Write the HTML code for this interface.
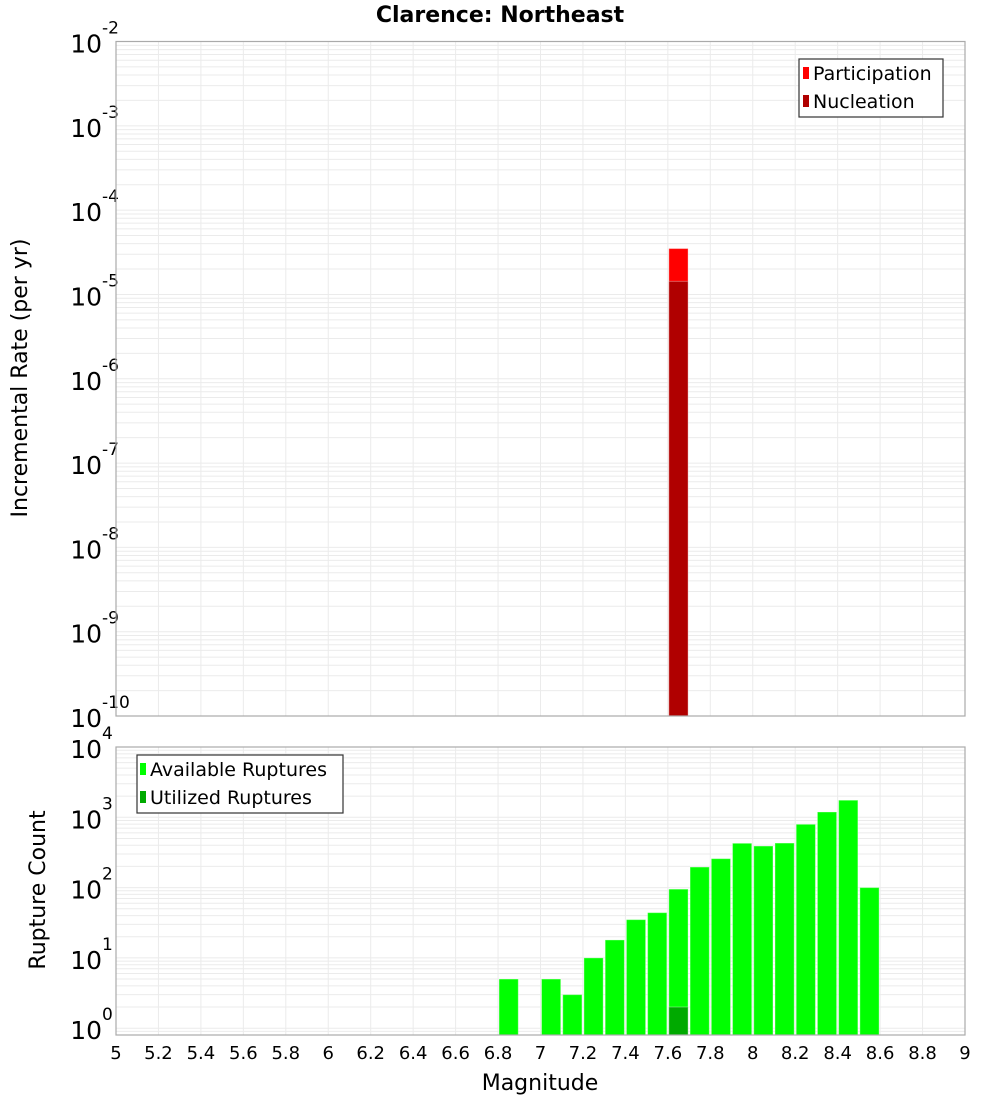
<!DOCTYPE html>
<html><head><meta charset="utf-8"><style>
body{margin:0;background:#fff;}
svg{display:block;font-family:"DejaVu Sans","Liberation Sans",sans-serif;}
</style></head><body>
<svg id="chart" width="1000" height="1100" xmlns="http://www.w3.org/2000/svg">
<text x="500" y="22" text-anchor="middle" font-size="22" font-weight="bold">Clarence: Northeast</text>
<g id="top"></g>
<g id="bot"></g>
<text transform="translate(27,378) rotate(-90)" text-anchor="middle" font-size="22">Incremental Rate (per yr)</text>
<text transform="translate(45,890) rotate(-90)" text-anchor="middle" font-size="22">Rupture Count</text>
<text x="540" y="1090" text-anchor="middle" font-size="22">Magnitude</text>
<g>
<rect x="799" y="59" width="144" height="58" fill="#fff" stroke="#333" stroke-width="1.2"/>
<rect x="803" y="67" width="6" height="12" fill="#ff0000"/>
<text x="813" y="80" font-size="19">Participation</text>
<rect x="803" y="95" width="6" height="12" fill="#b00000"/>
<text x="813" y="108" font-size="19">Nucleation</text>
</g>
<g>
<rect x="137" y="755" width="206" height="58" fill="#fff" stroke="#333" stroke-width="1.2"/>
<rect x="140" y="763" width="6" height="12" fill="#00ff00"/>
<text x="150" y="776" font-size="19">Available Ruptures</text>
<rect x="140" y="791" width="6" height="12" fill="#00aa00"/>
<text x="150" y="804" font-size="19">Utilized Ruptures</text>
</g>
</svg>
<script>
const xTicks=[5,5.2,5.4,5.6,5.8,6,6.2,6.4,6.6,6.8,7,7.2,7.4,7.6,7.8,8,8.2,8.4,8.6,8.8,9];
const rateMags=[7.65];
const participationRates=[3.5e-5];
const nucleationRates=[1.43e-5];
const topExps=[-2,-3,-4,-5,-6,-7,-8,-9,-10];
const countMags=[6.85,7.05,7.15,7.25,7.35,7.45,7.55,7.65,7.75,7.85,7.95,8.05,8.15,8.25,8.35,8.45,8.55];
const availableCounts=[5,5,3,10,18,35,44,95,196,258,427,390,430,795,1190,1750,100];
const utilizedMags=[7.65];
const utilizedCounts=[2];
const botExps=[0,1,2,3,4];

const NS="http://www.w3.org/2000/svg";
const svg=document.getElementById('chart');
const X0=116,X1=965;
const xs=m=>X0+(m-5)/(9-5)*(X1-X0);
const T={y0:41.5,y1:716,lmin:-10,lmax:-2};
const B={y0:747,y1:1035,lmin:Math.log10(0.8),lmax:4};
const ys=(P,v)=>P.y1-(Math.log10(v)-P.lmin)/(P.lmax-P.lmin)*(P.y1-P.y0);
function mk(tag,at,parent){const e=document.createElementNS(NS,tag);for(const k in at)e.setAttribute(k,at[k]);parent.appendChild(e);return e;}

function frame(P,g,exps,nameP){
  mk('rect',{x:X0,y:P.y0,width:X1-X0,height:P.y1-P.y0,fill:'#fff'},g);
  for(let d=Math.floor(P.lmin);d<P.lmax;d++){
    for(let k=1;k<10;k++){
      const l=d+Math.log10(k);
      if(l<P.lmin||l>P.lmax)continue;
      const y=ys(P,Math.pow(10,l));
      const ln=mk('line',{x1:X0,x2:X1,y1:y,y2:y,stroke:'#ebebeb','stroke-width':1},g);
      
      
    }
  }
  xTicks.forEach(t=>{
    const x=xs(t);
    const ln=mk('line',{x1:x,x2:x,y1:P.y0,y2:P.y1,stroke:'#ebebeb','stroke-width':1},g);
    
    
  });
  exps.forEach(e=>{
    const y=ys(P,Math.pow(10,e));
    const t=mk('text',{x:102,y:y+11,'text-anchor':'end','font-size':25},g);
    t.textContent='10';
    
    
    const s=mk('text',{x:102,y:y-8,'font-size':17},g);
    s.textContent=String(e);
    
    
  });
}
function border(P,g){mk('rect',{x:X0,y:P.y0,width:X1-X0,height:P.y1-P.y0,fill:'none',stroke:'#aaa','stroke-width':1.2},g);}
function bar(P,g,m,v,fill,name){
  const x=xs(m-0.05)+1,w=xs(m+0.05)-xs(m-0.05)-2,y=ys(P,v);
  const r=mk('rect',{x:x,y:y,width:w,height:P.y1-y,fill:fill,stroke:'rgba(255,255,255,0.35)','stroke-width':1},g);
  
  
}
const gT=document.getElementById('top'),gB=document.getElementById('bot');
frame(T,gT,topExps,'rate');
rateMags.forEach((m,i)=>bar(T,gT,m,participationRates[i],'#ff0000','participation-bar'));
rateMags.forEach((m,i)=>bar(T,gT,m,nucleationRates[i],'#b00000','nucleation-bar'));
border(T,gT);
frame(B,gB,botExps,'count');
countMags.forEach((m,i)=>bar(B,gB,m,availableCounts[i],'#00ff00','available-bar'));
utilizedMags.forEach((m,i)=>bar(B,gB,m,utilizedCounts[i],'#00aa00','utilized-bar'));
border(B,gB);
xTicks.forEach(t=>{
  const tx=mk('text',{x:xs(t),y:1059,'text-anchor':'middle','font-size':18},svg);
  tx.textContent=String(t);
  
  
});
</script>
</body></html>
